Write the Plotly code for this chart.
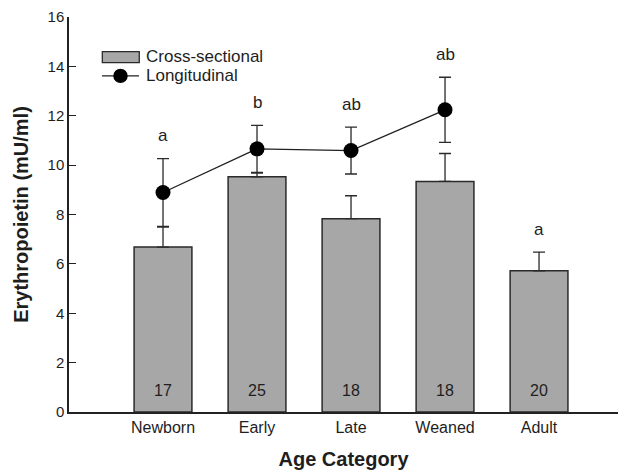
import plotly.graph_objects as go

# ---- data ----
categories = ["Newborn", "Early", "Late", "Weaned", "Adult"]
cross_mean = [6.68, 9.53, 7.83, 9.34, 5.72]
cross_se = [0.81, 0.15, 0.93, 1.13, 0.76]
n_counts = ["17", "25", "18", "18", "20"]

long_categories = ["Newborn", "Early", "Late", "Weaned"]
long_mean = [8.89, 10.66, 10.59, 12.24]
long_se = [1.37, 0.95, 0.95, 1.32]

sig_letters = ["a", "b", "ab", "ab", "a"]
y_ticks = [0, 2, 4, 6, 8, 10, 12, 14, 16]

FONT = "Liberation Sans, Arial, sans-serif"
DARK = "#1e1e1e"
BAR_FILL = "#a7a7a7"

fig = go.Figure()

fig.add_trace(go.Bar(
    x=categories, y=cross_mean, width=0.615,
    marker=dict(color=BAR_FILL, line=dict(color="#2a2a2a", width=1.5)),
    error_y=dict(type="data", array=cross_se, arrayminus=[0] * len(cross_se),
                 symmetric=False, color="#2a2a2a", thickness=1.3, width=6),
    showlegend=False, hoverinfo="skip",
))

fig.add_trace(go.Scatter(
    x=long_categories, y=long_mean, mode="lines+markers",
    line=dict(color="#202020", width=1.3),
    marker=dict(color="#000000", size=15),
    error_y=dict(type="data", array=long_se, color="#2a2a2a", thickness=1.3, width=6),
    showlegend=False, hoverinfo="skip",
))

# sample sizes at bar bases
for c, n in zip(categories, n_counts):
    fig.add_annotation(x=c, y=0, text=n, showarrow=False, yanchor="middle",
                       yshift=22, font=dict(family=FONT, size=16, color=DARK))

# significance letters above the highest error bar
tops = [m + s for m, s in zip(long_mean, long_se)] + [cross_mean[4] + cross_se[4]]
for c, letter, t in zip(categories, sig_letters, tops):
    fig.add_annotation(x=c, y=t, text=letter, showarrow=False, yanchor="middle",
                       yshift=23, font=dict(family=FONT, size=17, color=DARK))

# ---- custom legend ----
fig.add_shape(type="rect", xref="paper", yref="paper",
              x0=0.0607, x1=0.128, y0=0.8845, y1=0.9123,
              fillcolor=BAR_FILL, line=dict(color="#2a2a2a", width=1.3))
fig.add_shape(type="line", xref="paper", yref="paper",
              x0=0.0601, x1=0.1275, y0=0.8508, y1=0.8508,
              line=dict(color="#202020", width=1.3))
fig.add_shape(type="circle", xref="paper", yref="paper",
              x0=0.0807, x1=0.1069, y0=0.8326, y1=0.869,
              fillcolor="#000000", line=dict(color="#000000", width=0))
fig.add_annotation(xref="paper", yref="paper", x=0.1366, y=0.899, text="Cross-sectional",
                   showarrow=False, xanchor="left", yanchor="middle",
                   font=dict(family=FONT, size=17, color=DARK))
fig.add_annotation(xref="paper", yref="paper", x=0.1366, y=0.8508, text="Longitudinal",
                   showarrow=False, xanchor="left", yanchor="middle",
                   font=dict(family=FONT, size=17, color=DARK))

fig.update_layout(
    width=621, height=471,
    margin=dict(l=69, r=3, t=17, b=59),
    paper_bgcolor="white", plot_bgcolor="white",
    font=dict(family=FONT, color=DARK),
    xaxis=dict(
        type="category", categoryorder="array", categoryarray=categories,
        range=[-1, 4.84], showgrid=False, zeroline=False, automargin=False,
        showline=True, linecolor="#222222", linewidth=1.5,
        ticks="",
        tickfont=dict(family=FONT, size=16, color=DARK),
        title=dict(text="<b>Age Category</b>", standoff=17,
                   font=dict(family=FONT, size=20, color=DARK)),
    ),
    yaxis=dict(
        range=[0, 16], tickvals=y_ticks, showgrid=False, zeroline=False,
        automargin=False,
        showline=True, linecolor="#222222", linewidth=1.5,
        ticks="inside", ticklen=7, tickwidth=1.3, tickcolor="#222222",
        tickfont=dict(family=FONT, size=15, color=DARK),
        title=dict(text="<b>Erythropoietin (mU/ml)</b>", standoff=14,
                   font=dict(family=FONT, size=20, color=DARK)),
    ),
)

fig.write_html("out.html", config={"displayModeBar": False},
               post_script="document.body.style.margin='0px';")
